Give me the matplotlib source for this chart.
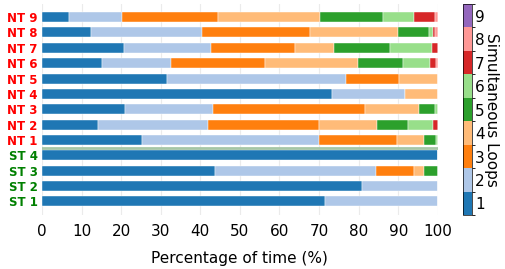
import numpy as np
import matplotlib.pyplot as plt
import matplotlib as mpl

labels = ["ST 1", "ST 2", "ST 3", "ST 4",
          "NT 1", "NT 2", "NT 3", "NT 4", "NT 5", "NT 6", "NT 7", "NT 8", "NT 9"]

# percentage of time with n simultaneous loops, one list per n (same order as labels)
loops_1 = [71.5, 80.9, 43.7, 100.0, 25.3, 14.1, 21.1, 73.3, 31.6, 15.1, 20.8, 12.5, 6.9]
loops_2 = [28.5, 19.1, 40.8, 0.0, 44.7, 27.8, 22.2, 18.3, 45.2, 17.6, 22.0, 27.9, 13.3]
loops_3 = [0.0, 0.0, 9.5, 0.0, 19.6, 28.1, 38.4, 0.0, 13.3, 23.7, 21.0, 27.4, 24.2]
loops_4 = [0.0, 0.0, 2.4, 0.0, 6.8, 14.7, 13.5, 8.4, 9.9, 23.5, 10.0, 22.1, 25.8]
loops_5 = [0.0, 0.0, 3.6, 0.0, 3.2, 7.7, 4.1, 0.0, 0.0, 11.2, 14.2, 7.9, 15.9]
loops_6 = [0.0, 0.0, 0.0, 0.0, 0.4, 6.5, 0.7, 0.0, 0.0, 6.8, 10.6, 1.0, 8.0]
loops_7 = [0.0, 0.0, 0.0, 0.0, 0.0, 1.1, 0.0, 0.0, 0.0, 1.6, 1.4, 0.6, 5.3]
loops_8 = [0.0, 0.0, 0.0, 0.0, 0.0, 0.0, 0.0, 0.0, 0.0, 0.5, 0.0, 0.6, 0.6]
loops_9 = [0.0, 0.0, 0.0, 0.0, 0.0, 0.0, 0.0, 0.0, 0.0, 0.0, 0.0, 0.0, 0.0]

series = [loops_1, loops_2, loops_3, loops_4, loops_5, loops_6, loops_7, loops_8, loops_9]
n_loops = np.arange(1, 10)
colors = [plt.cm.tab20(i) for i in range(9)]

fig = plt.figure(figsize=(5.05, 2.69), dpi=100)
ax = fig.add_axes([0.083, 0.2, 0.784, 0.785])
cax = fig.add_axes([0.917, 0.2, 0.018, 0.785])

y = np.arange(len(labels))
left = np.zeros(len(labels))
for vals, c in zip(series, colors):
    vals = np.array(vals)
    ax.barh(y, vals, left=left, height=0.65, color=c, edgecolor="white", linewidth=0.3)
    left += vals

ax.axhline(3.5, color="#a6c6a6", linewidth=2)

ax.set_xlim(0, 100)
ax.set_ylim(-0.9, 12.85)
ax.set_xticks(np.arange(0, 101, 10))
ax.tick_params(axis="x", labelsize=11, length=0, pad=6)
ax.set_yticks(y)
ax.set_yticklabels(labels, fontsize=8.5, fontweight="bold")
ax.tick_params(axis="y", length=0, pad=3)
for lab in ax.get_yticklabels():
    lab.set_color("red" if lab.get_text().startswith("NT") else "green")
ax.set_xlabel("Percentage of time (%)", fontsize=11, labelpad=9)
ax.grid(axis="x", color="#ebebeb", linewidth=0.8)
ax.set_axisbelow(True)
for s in ax.spines.values():
    s.set_visible(False)

cmap = mpl.colors.ListedColormap(colors)
norm = mpl.colors.BoundaryNorm(np.arange(0.5, 10.5, 1), cmap.N)
cb = fig.colorbar(mpl.cm.ScalarMappable(norm=norm, cmap=cmap), cax=cax, ticks=n_loops)
cb.outline.set_linewidth(0.5)
cb.ax.tick_params(labelsize=11, length=0, pad=2)
cb.set_label("Simultaneous Loops", fontsize=11, rotation=270, labelpad=10)

fig.savefig("out.png", dpi=100)
